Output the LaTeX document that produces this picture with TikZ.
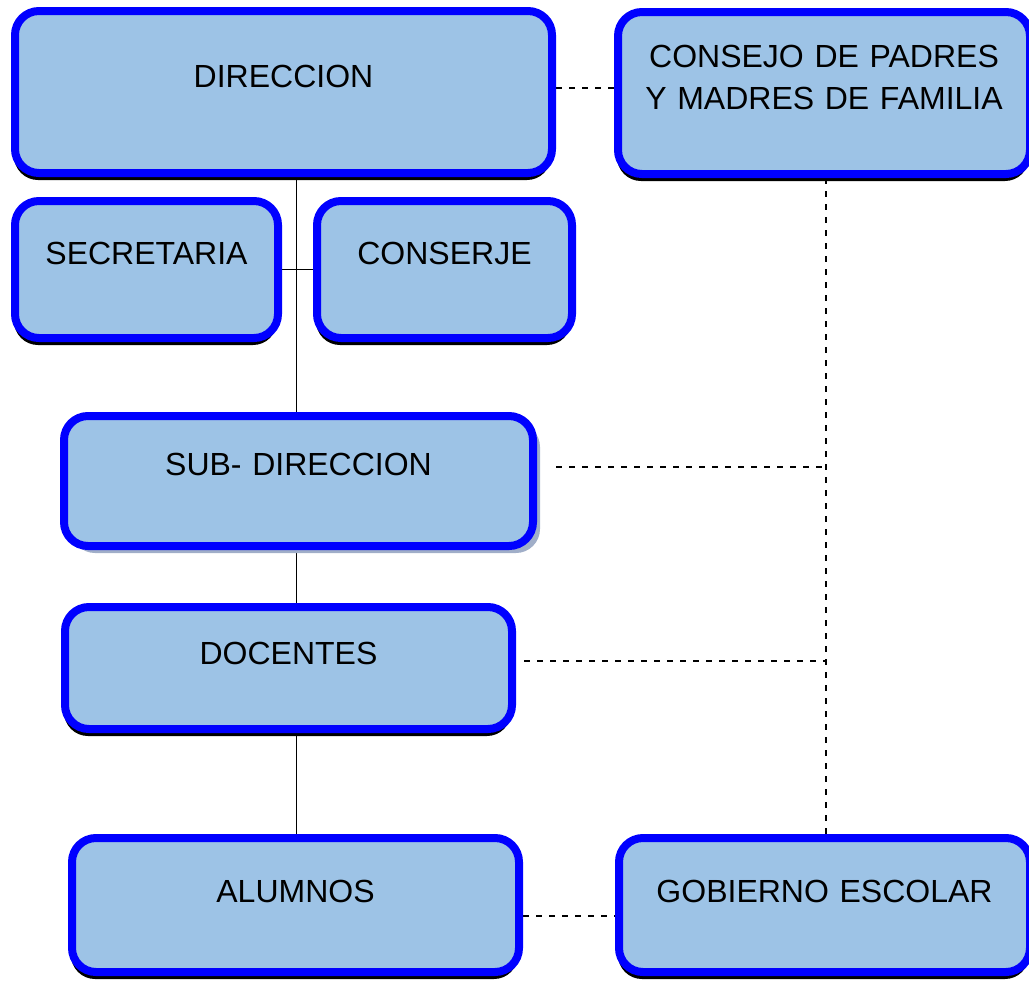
\documentclass[tikz,border=0pt]{standalone}
\usepackage{fontspec}
\setmainfont{Liberation Sans}
\usetikzlibrary{shadows,backgrounds}

\definecolor{celeste}{RGB}{157,195,230}
\definecolor{azul}{RGB}{0,0,255}
\definecolor{sombra}{RGB}{160,174,200}

\tikzset{
  cajabase/.style={draw=azul, fill=celeste, line width=4pt, rounded corners=12pt,
    inner sep=0pt, anchor=base, align=center,
    font=\fontsize{16}{21}\selectfont},
  caja/.style={cajabase,
    drop shadow={shadow xshift=-0.5pt, shadow yshift=-3.5pt, fill=black, opacity=1}},
  cajagris/.style={cajabase,
    drop shadow={shadow xshift=3.5pt, shadow yshift=-3.5pt, fill=sombra, opacity=1}},
  linea/.style={black, line width=0.8pt},
  punteada/.style={black, line width=1pt, dash pattern=on 3pt off 3.5pt}
}

\begin{document}
\begin{tikzpicture}[x=0.5pt, y=-0.5pt]
  \useasboundingbox (0,0) rectangle (1029,981);

  \node[caja, text width=268.5pt, text height=38pt, text depth=43pt]
    (direccion) at (283.5,87) {DIRECCION};
  \node[caja, text width=206pt, text height=27.5pt, text depth=53.5pt]
    (consejo) at (824,67) {CONSEJO DE PADRES\\Y MADRES DE FAMILIA};
  \node[caja, text width=131.5pt, text height=31.5pt, text depth=37pt]
    (secretaria) at (146.5,264) {SECRETARIA};
  \node[caja, text width=127.5pt, text height=31.5pt, text depth=37pt]
    (conserje) at (444.5,264) {CONSERJE};
  \node[cajagris, text width=234.5pt, text height=29.5pt, text depth=35.5pt]
    (subdir) at (298.5,475) {SUB- DIRECCION};
  \node[caja, text width=223.5pt, text height=28.5pt, text depth=32.5pt]
    (docentes) at (288.5,664) {DOCENTES};
  \node[caja, text width=223.5pt, text height=32pt, text depth=35pt]
    (alumnos) at (295.5,902) {ALUMNOS};
  \node[caja, text width=205.5pt, text height=32pt, text depth=35pt]
    (gobierno) at (824.5,902) {GOBIERNO ESCOLAR};

  \coordinate (eje) at (296.5,0);
  \coordinate (troncal) at (826,0);
  \coordinate (tdir) at (600,88);
  \coordinate (tsub) at (826,467);
  \coordinate (tdoc) at (826,661);

  \begin{scope}[on background layer]
    % linea de mando
    \draw[linea] (direccion.south -| eje) -- (subdir.north -| eje);
    \draw[linea] (secretaria.east) -- (conserje.west);
    \draw[linea] (subdir.south -| eje) -- (docentes.north -| eje);
    \draw[linea] (docentes.south -| eje) -- (alumnos.north -| eje);

    % coordinacion
    \draw[punteada] (direccion.east |- tdir) -- (consejo.west |- tdir);
    \draw[punteada] (consejo.south -| troncal) -- (gobierno.north -| troncal);
    \draw[punteada] ([xshift=9.5pt]subdir.east |- tsub) -- (tsub);
    \draw[punteada] ([xshift=4pt]docentes.east |- tdoc) -- (tdoc);
    \draw[punteada] ([yshift=-5.5pt]alumnos.east) -- ([yshift=-5.5pt]gobierno.west);
  \end{scope}
\end{tikzpicture}
\end{document}
